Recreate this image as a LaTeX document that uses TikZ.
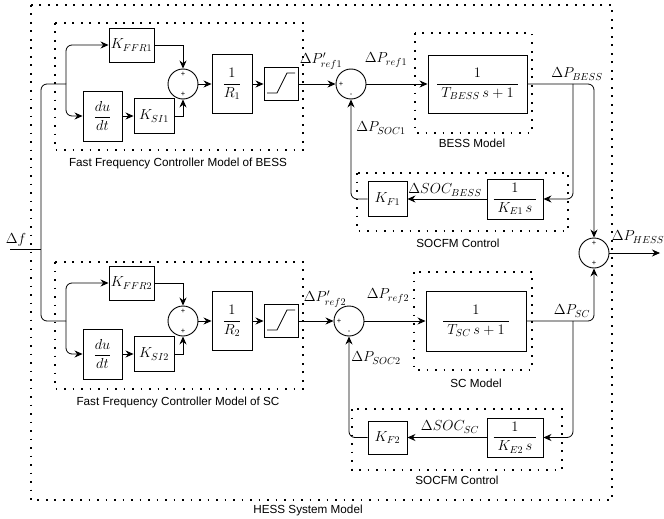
\RequirePackage{fix-cm}
\documentclass[tikz,border=0pt]{standalone}
\usepackage{amsmath}
\usepackage[no-math]{fontspec}
\newfontfamily\arial{Liberation Sans}
\usetikzlibrary{arrows.meta,calc}
\begin{document}
\begin{tikzpicture}[x=1pt,y=-1pt,
  blk/.style={draw, line width=0.9pt, inner sep=0pt, font=\fontsize{14.5}{17}\selectfont},
  sumc/.style={draw, circle, line width=0.9pt, minimum size=30pt, inner sep=0pt},
  dotbox/.style={line width=1.8pt, dash pattern=on 1.8pt off 6.7pt},
  arr/.style={line width=0.8pt, -{Stealth[length=8pt,width=7pt]}},
  wire/.style={line width=0.8pt},
  lbltxt/.style={font=\arial\fontsize{11.7}{13}\selectfont, inner sep=0pt},
  mlbl/.style={font=\fontsize{14.5}{17}\selectfont, inner sep=0pt},
  sgn/.style={font=\arial\fontsize{7.5}{8}\selectfont, inner sep=0pt}
]
\useasboundingbox (0,0) rectangle (664,519);

% dotted frames
\draw[dotbox] (31,5) rectangle (612,500);
\draw[dotbox] (55,23) rectangle (303,150);
\draw[dotbox] (55,262) rectangle (303,389);
\draw[dotbox] (415,33) rectangle (532,133);
\draw[dotbox] (414,272) rectangle (532,370);
\draw[dotbox] (357,173) rectangle (568,231);
\draw[dotbox] (352,409) rectangle (562,470);

% frame labels
\node[lbltxt] (lffc1) at (178,163) {Fast Frequency Controller Model of BESS};
\node[lbltxt] (lffc2) at (178,402) {Fast Frequency Controller Model of SC};
\node[lbltxt] (lbess) at (472,143) {BESS Model};
\node[lbltxt] (lsc) at (476,383) {SC Model};
\node[lbltxt] (lsoc1) at (458,243) {SOCFM Control};
\node[lbltxt] (lsoc2) at (457,480) {SOCFM Control};
\node[lbltxt] (lhess) at (308,510) {HESS System Model};

% ---------- top branch (BESS) ----------
\node[blk, minimum width=45pt, minimum height=34pt] (kffr1) at (131.5,45) {$K_{FFR1}$};
\node[blk, minimum width=39pt, minimum height=50pt] (dudt1) at (102.5,116) {$\dfrac{du}{dt}$};
\node[blk, minimum width=40pt, minimum height=35pt] (ksi1) at (154,116) {$K_{SI1}$};
\node[sumc] (s1) at (183,84) {};
\node[sgn] (s1a) at (183,74) {+};
\node[sgn] (s1b) at (183,94) {+};
\node[blk, minimum width=40pt, minimum height=59pt] (r1) at (232,84) {$\dfrac{1}{R_1}$};
\node[blk, minimum width=34pt, minimum height=33pt] (sat1) at (281,84) {};
\draw[wire] ([shift={(-14,9)}]sat1.center) -- ++(10,0) -- ++(10,-20) -- ++(8,0);
\node[sumc] (sa) at (351,84) {};
\node[sgn] (saa) at (341,84) {+};
\node[sgn] (sab) at (351,95) {-};
\node[blk, minimum width=99pt, minimum height=58pt] (tf1) at (477.5,84) {$\dfrac{1}{\;T_{BESS}\,s+1\;}$};
\node[blk, minimum width=56pt, minimum height=40pt] (ke1) at (515,199) {$\dfrac{1}{\;K_{E1}\,s\;}$};
\node[blk, minimum width=39pt, minimum height=35pt] (kf1) at (387.5,199) {$K_{F1}$};

% ---------- bottom branch (SC) ----------
\node[blk, minimum width=45pt, minimum height=34pt] (kffr2) at (131.5,283) {$K_{FFR2}$};
\node[blk, minimum width=39pt, minimum height=50pt] (dudt2) at (102.5,354) {$\dfrac{du}{dt}$};
\node[blk, minimum width=40pt, minimum height=35pt] (ksi2) at (154,354) {$K_{SI2}$};
\node[sumc] (s2) at (183,321) {};
\node[sgn] (s2a) at (183,311) {+};
\node[sgn] (s2b) at (183,331) {+};
\node[blk, minimum width=40pt, minimum height=59pt] (r2) at (232,321) {$\dfrac{1}{R_2}$};
\node[blk, minimum width=34pt, minimum height=33pt] (sat2) at (281,321) {};
\draw[wire] ([shift={(-14,9)}]sat2.center) -- ++(10,0) -- ++(10,-20) -- ++(8,0);
\node[sumc] (sb) at (349,321) {};
\node[sgn] (sba) at (339,321) {+};
\node[sgn] (sbb) at (349,332) {-};
\node[blk, minimum width=100pt, minimum height=60pt] (tf2) at (476,321) {$\dfrac{1}{\;T_{SC}\,s+1\;}$};
\node[blk, minimum width=56pt, minimum height=39pt] (ke2) at (515,437.5) {$\dfrac{1}{\;K_{E2}\,s\;}$};
\node[blk, minimum width=39pt, minimum height=33pt] (kf2) at (387.5,437.5) {$K_{F2}$};

% output sum
\node[sumc] (s3) at (594,253) {};
\node[sgn] (s3a) at (594,243) {+};
\node[sgn] (s3b) at (594,263) {+};

% ---------- signal labels ----------
\node[mlbl] (ldf) at (16,240) {$\Delta f$};
\node[mlbl] (lpr1p) at (321,61) {$\Delta P'_{ref1}$};
\node[mlbl] (lpr1) at (386,60) {$\Delta P_{ref1}$};
\node[mlbl] (lpb) at (577,74) {$\Delta P_{BESS}$};
\node[mlbl] (lps1) at (381,128) {$\Delta P_{SOC1}$};
\node[mlbl] (lsocb) at (445,190) {$\Delta SOC_{BESS}$};
\node[mlbl] (lph) at (638,237) {$\Delta P_{HESS}$};
\node[mlbl] (lpr2p) at (325,299) {$\Delta P'_{ref2}$};
\node[mlbl] (lpr2) at (388,296) {$\Delta P_{ref2}$};
\node[mlbl] (lpsc) at (572,311) {$\Delta P_{SC}$};
\node[mlbl] (lps2) at (376,358) {$\Delta P_{SOC2}$};
\node[mlbl] (lsocs) at (450,427) {$\Delta SOC_{SC}$};

% ---------- input wiring ----------
\coordinate (df0) at (10,249);
\coordinate (jt) at (41,84);
\coordinate (jb) at (41,321);
\coordinate (b1) at (66,84);
\coordinate (b2) at (66,321);
\draw[wire] (df0) -- (df0 -| jt);
\draw[wire, rounded corners=6pt] (b1) -- (jt) -- (jb) -- (b2);
\draw[arr, rounded corners=6pt] (b1) |- (kffr1.west);
\draw[arr, rounded corners=6pt] (b1) |- (dudt1.west);
\draw[arr, rounded corners=6pt] (b2) |- (kffr2.west);
\draw[arr, rounded corners=6pt] (b2) |- (dudt2.west);

% ---------- top connectors ----------
\draw[arr] (dudt1.east) -- (ksi1.west);
\draw[arr] (kffr1.east) -| (s1.north);
\draw[arr] (ksi1.east) -| (s1.south);
\draw[arr] (s1.east) -- (r1.west);
\draw[arr] (r1.east) -- (sat1.west);
\draw[arr] (sat1.east) -- (sa.west);
\draw[arr] (sa.east) -- (tf1.west);
\coordinate (o1) at (573,84);
\draw[arr, rounded corners=6pt] (tf1.east) -| (s3.north);
\draw[arr, rounded corners=6pt] (o1) |- (ke1.east);
\draw[arr] (ke1.west) -- (kf1.east);
\draw[arr, rounded corners=6pt] (kf1.west) -| (sa.south);

% ---------- bottom connectors ----------
\draw[arr] (dudt2.east) -- (ksi2.west);
\draw[arr] (kffr2.east) -| (s2.north);
\draw[arr] (ksi2.east) -| (s2.south);
\draw[arr] (s2.east) -- (r2.west);
\draw[arr] (r2.east) -- (sat2.west);
\draw[arr] (sat2.east) -- (sb.west);
\draw[arr] (sb.east) -- (tf2.west);
\coordinate (o2) at (573,321);
\draw[arr, rounded corners=6pt] (tf2.east) -| (s3.south);
\draw[arr, rounded corners=6pt] (o2) |- (ke2.east);
\draw[arr] (ke2.west) -- (kf2.east);
\draw[arr, rounded corners=6pt] (kf2.west) -| (sb.south);

% output
\coordinate (hout) at (660,253);
\draw[arr] (s3.east) -- (hout);
\end{tikzpicture}
\end{document}
